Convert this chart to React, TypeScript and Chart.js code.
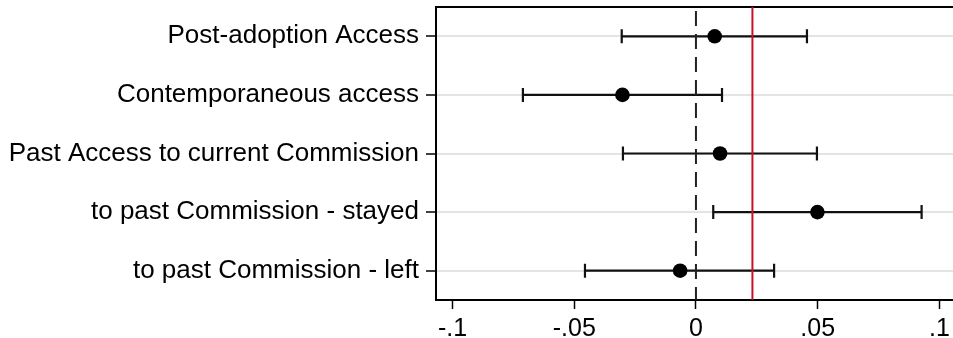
import React, { useEffect, useRef } from "react";
import { Chart, registerables } from "chart.js";

Chart.register(...registerables);

const categories = [
  "Post-adoption Access",
  "Contemporaneous access",
  "Past Access to current Commission",
  "to past Commission - stayed",
  "to past Commission - left",
];
const estimates = [0.0077, -0.0302, 0.0099, 0.0499, -0.0065];
const lowerCI = [-0.0305, -0.0711, -0.0300, 0.0071, -0.0456];
const upperCI = [0.0456, 0.0107, 0.0497, 0.0927, 0.0321];
const xTicks = [-0.1, -0.05, 0, 0.05, 0.1];
const xTickLabels = ["-.1", "-.05", "0", ".05", ".1"];
const referenceValue = 0.0232;
const zeroValue = 0;

const FONT = "'Liberation Sans', Arial, Helvetica, sans-serif";

const overlayPlugin = {
  id: "overlay",
  beforeDatasetsDraw(chart: any) {
    const { ctx, chartArea, scales } = chart;
    const xs = scales.x;
    const ys = scales.y;
    ctx.save();
    // top border
    ctx.strokeStyle = "#000";
    ctx.lineWidth = 2;
    ctx.beginPath();
    ctx.moveTo(chartArea.left - 1, chartArea.top);
    ctx.lineTo(chartArea.right, chartArea.top);
    ctx.stroke();
    // error bars
    ctx.strokeStyle = "#111";
    ctx.lineWidth = 2.2;
    for (let i = 0; i < categories.length; i++) {
      const y = ys.getPixelForValue(i);
      const x1 = xs.getPixelForValue(lowerCI[i]);
      const x2 = xs.getPixelForValue(upperCI[i]);
      ctx.beginPath();
      ctx.moveTo(x1, y);
      ctx.lineTo(x2, y);
      ctx.moveTo(x1, y - 7);
      ctx.lineTo(x1, y + 7);
      ctx.moveTo(x2, y - 7);
      ctx.lineTo(x2, y + 7);
      ctx.stroke();
    }
    // zero dashed line
    const x0 = xs.getPixelForValue(zeroValue);
    ctx.strokeStyle = "#222";
    ctx.lineWidth = 2;
    ctx.setLineDash([15, 8]);
    ctx.beginPath();
    ctx.moveTo(x0, chartArea.top + 4);
    ctx.lineTo(x0, chartArea.bottom);
    ctx.stroke();
    ctx.setLineDash([]);
    // red reference line
    const xr = xs.getPixelForValue(referenceValue);
    ctx.strokeStyle = "#c8102e";
    ctx.lineWidth = 2;
    ctx.beginPath();
    ctx.moveTo(xr, chartArea.top);
    ctx.lineTo(xr, chartArea.bottom);
    ctx.stroke();
    ctx.restore();
  },
};

export default function App() {
  const ref = useRef<HTMLCanvasElement>(null);
  useEffect(() => {
    document.body.style.margin = "0";
    const canvas = ref.current!;
    const chart = new Chart(canvas, {
      type: "scatter",
      data: {
        datasets: [
          {
            data: estimates.map((v, i) => ({ x: v, y: i })),
            pointRadius: 7.3,
            pointBackgroundColor: "#000",
            pointBorderColor: "#000",
            pointBorderWidth: 0,
          },
        ],
      },
      options: {
        animation: false,
        responsive: false,
        maintainAspectRatio: false,
        layout: { autoPadding: false, padding: { top: 7, right: 0, left: 0, bottom: 0 } },
        plugins: { legend: { display: false }, tooltip: { enabled: false } },
        scales: {
          x: {
            type: "linear",
            min: -0.1068,
            max: 0.1056,
            afterBuildTicks: (s: any) => {
              s.ticks = xTicks.map((v) => ({ value: v }));
            },
            afterFit: (s: any) => {
              s.height = 38;
              s.paddingLeft = 0;
              s.paddingRight = 0;
            },
            ticks: {
              autoSkip: false,
              maxRotation: 0,
              color: "#000",
              padding: 5,
              font: { family: FONT, size: 25 },
              callback: (v: any) => {
                const idx = xTicks.findIndex((t) => Math.abs(t - v) < 1e-9);
                return idx >= 0 ? xTickLabels[idx] : "";
              },
            },
            grid: {
              drawOnChartArea: false,
              drawTicks: true,
              tickLength: 9,
              tickColor: "#000",
              tickWidth: 1.5,
            },
            border: { color: "#000", width: 2 },
          },
          y: {
            type: "linear",
            min: -0.5,
            max: 4.5,
            reverse: true,
            afterBuildTicks: (s: any) => {
              s.ticks = categories.map((_, i) => ({ value: i }));
            },
            afterFit: (s: any) => {
              s.width = 436;
              s.paddingTop = 0;
              s.paddingBottom = 0;
            },
            ticks: {
              autoSkip: false,
              color: "#000",
              padding: 7,
              font: { family: FONT, size: 26 },
              callback: (v: any) => categories[Math.round(v)] ?? "",
            },
            grid: {
              color: "#e4e4e4",
              lineWidth: 2,
              tickLength: 10,
              tickColor: "#000",
              tickWidth: 1.5,
            },
            border: { color: "#000", width: 2 },
          },
        },
      },
      plugins: [overlayPlugin],
    });
    return () => chart.destroy();
  }, []);
  return (
    <div style={{ width: 953, height: 338 }}>
      <canvas ref={ref} width={953} height={338} style={{ display: "block" }} />
    </div>
  );
}
